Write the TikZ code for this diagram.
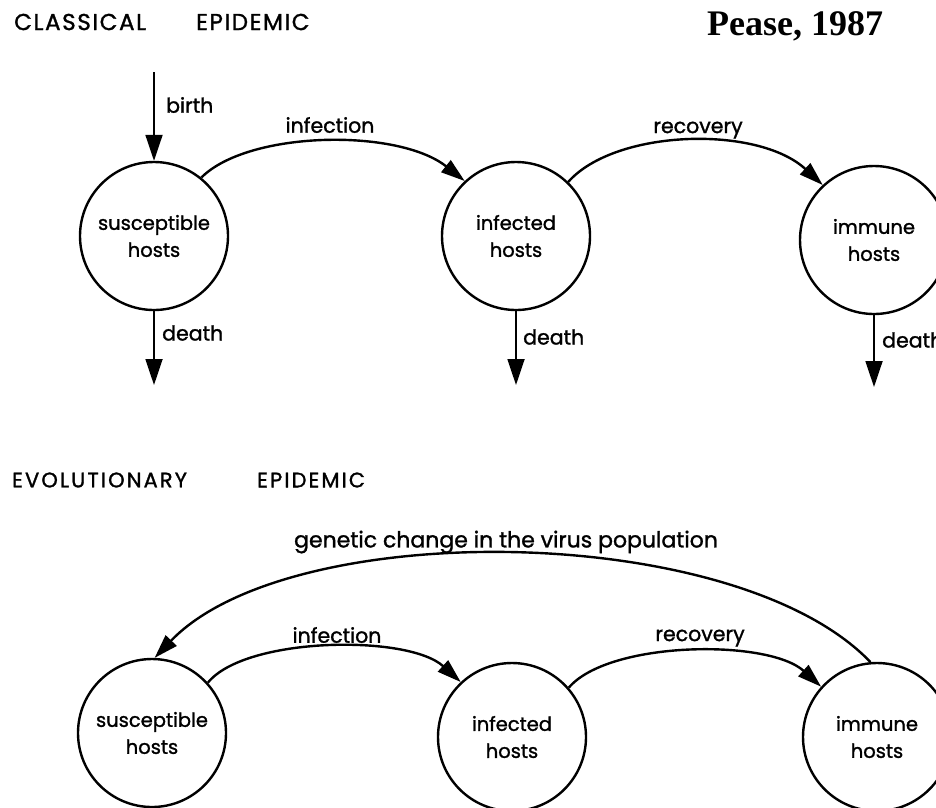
\documentclass[tikz,border=0pt]{standalone}
\usepackage{fontspec}
\usepackage{graphicx}
\setmainfont{Poppins}
\newfontfamily\peasefont{Liberation Serif}
\usetikzlibrary{arrows.meta}
\newcommand\hostfont{\fontsize{19.5}{27}\selectfont\addfontfeature{FakeBold=1.3}}
\newcommand\labfont{\fontsize{20.5}{24}\selectfont\addfontfeature{FakeBold=1.3}}
\newcommand\genfont{\fontsize{22}{24}\selectfont\addfontfeature{FakeBold=1.3}}
\newcommand\titlefontA{\fontsize{23}{23}\selectfont\addfontfeature{LetterSpace=7,FakeBold=1.3}}
\newcommand\titlefontB{\fontsize{21}{21}\selectfont\addfontfeature{LetterSpace=10,FakeBold=1.3}}
\begin{document}
\begin{tikzpicture}[x=1pt,y=-1pt,
  host/.style={circle, draw, line width=2.4pt, minimum size=148pt, inner sep=0pt, align=center, font=\hostfont},
  flow/.style={line width=2.4pt, -{Triangle[length=24pt,width=15pt]}},
  vflow/.style={line width=1.8pt, -{Triangle[length=26pt,width=17pt]}},
  lab/.style={font=\labfont, inner sep=0pt},
  ttlA/.style={font=\titlefontA, inner sep=0pt, anchor=west},
  ttlB/.style={font=\titlefontB, inner sep=0pt, anchor=west}]
\useasboundingbox (0,0) rectangle (936,807);
\clip (0,0) rectangle (936,807);
% titles
\node[ttlA] (t1) at (14,22) {CLASSICAL};
\node[ttlA] (t2) at (196,22) {EPIDEMIC};
\node[inner sep=0pt, font=\peasefont\bfseries\fontsize{36}{36}\selectfont] (pease) at (795,26) {Pease, 1987};
\node[ttlB] (t3) at (12,480) {EVOLUTIONARY};
\node[ttlB] (t4) at (257,480) {EPIDEMIC};
% classical epidemic
\node[host] (S) at (154,236) {susceptible\\hosts};
\node[host] (I) at (516,236) {infected\\hosts};
\node[host] (M) at (874,240) {immune\\hosts};
\coordinate (bS) at (154,72);
\coordinate (dS) at (154,385);
\coordinate (dI) at (516,385);
\coordinate (dM) at (874,387);
\draw[vflow] (bS) -- (S.north);
\draw[vflow] (S.south) -- (dS);
\draw[vflow] (I.south) -- (dI);
\draw[vflow] (M.south) -- (dM);
\node[lab, anchor=west] (lb) at (166,105) {birth};
\node[lab, anchor=west] (ld1) at (162,333) {death};
\node[lab, anchor=west] (ld2) at (523,337) {death};
\node[lab, anchor=west] (ld3) at (882,340) {death};
\draw[flow] (S.51) .. controls +(47,-47) and +(-67,-53) .. (I.133);
\draw[flow] (I.46) .. controls +(47,-53) and +(-65,-60) .. (M.133);
\node[lab] (li1) at (330,125) {infection};
\node[lab] (lr1) at (698,130) {recovery};
% evolutionary epidemic
\node[host] (S2) at (152,733) {susceptible\\hosts};
\node[host] (I2) at (512,737) {infected\\hosts};
\node[host] (M2) at (877,737) {immune\\hosts};
\draw[flow] (S2.42) .. controls +(37,-46) and +(-53,-48) .. (I2.133);
\draw[flow] (I2.41) .. controls +(40,-47) and +(-53,-48) .. (M2.138);
\draw[flow] (M2.95) .. controls +(-135,-141) and +(135,-141) .. (S2.88);
\node[lab] (li2) at (337,635) {infection};
\node[lab] (lr2) at (700,638) {recovery};
\node[lab, font=\genfont] (lg) at (506,542) {genetic change in the virus population};
\end{tikzpicture}
\end{document}
